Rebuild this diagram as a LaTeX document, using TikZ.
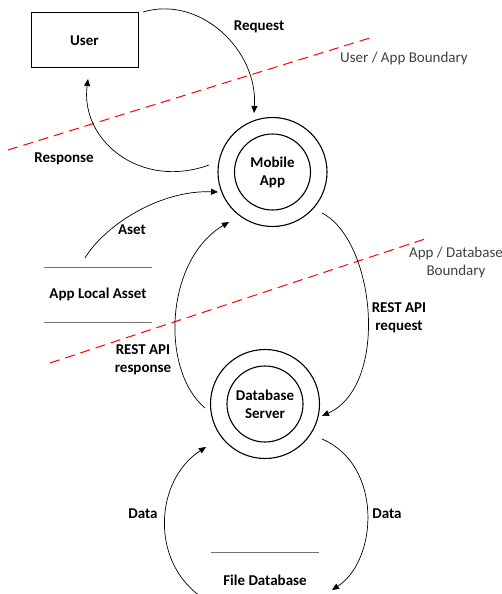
\documentclass[tikz,border=0pt]{standalone}
\usepackage{fontspec}
\setmainfont{Carlito}
\usetikzlibrary{arrows.meta}
\begin{document}
\begin{tikzpicture}[x=1pt,y=-1pt,
  lbl/.style={font=\fontsize{15}{18}\selectfont\bfseries, align=center, inner sep=0pt},
  bnd/.style={font=\fontsize{15}{18}\selectfont, text=black!75, align=center, inner sep=0pt},
  outerc/.style={circle, draw, line width=1.1pt, minimum size=109pt, inner sep=0pt},
  innerc/.style={circle, draw, line width=1.1pt, minimum size=76pt, inner sep=0pt, font=\fontsize{15}{18}\selectfont\bfseries, align=center},
  flow/.style={line width=0.7pt, -{Triangle[length=7pt,width=6pt]}},
  redline/.style={red, line width=1pt, dash pattern=on 10pt off 6pt},
  storeline/.style={black!55, line width=0.6pt}]
\useasboundingbox (0,0) rectangle (502,594);

% entities / processes
\node[draw, line width=1pt, minimum width=107pt, minimum height=55pt, font=\fontsize{15}{18}\selectfont\bfseries] (user) at (84.5,40.5) {User};
\node[outerc] (app) at (272.5,172) {};
\node[innerc] (appin) at (272.5,172) {Mobile\\App};
\node[outerc] (db) at (265,404) {};
\node[innerc] (dbin) at (265,404) {Database\\Server};

% data stores
\node[lbl] (local) at (98,294) {App Local Asset};
\coordinate (la1) at (44,267); \coordinate (la2) at (152,267);
\coordinate (lb1) at (44,322); \coordinate (lb2) at (152,322);
\draw[storeline] (la1) -- (la2);
\draw[storeline] (lb1) -- (lb2);
\node[lbl] (filedb) at (265,580) {File Database};
\coordinate (fa1) at (211,552); \coordinate (fa2) at (319,552);
\draw[storeline] (fa1) -- (fa2);

% boundaries
\coordinate (b1s) at (8,150); \coordinate (b1e) at (373,37);
\draw[redline] (b1s) -- (b1e);
\node[bnd] (b1l) at (404,59) {User / App Boundary};
\coordinate (b2s) at (50,363); \coordinate (b2e) at (425,239);
\draw[redline] (b2s) -- (b2e);
\node[bnd] (b2l) at (456,262) {App / Database\\Boundary};

% flow end points
\coordinate (reqS) at (143,12);   \coordinate (reqE) at (254,113);
\coordinate (resS) at (209,165);  \coordinate (resE) at (88,79);
\coordinate (astS) at (85,258);   \coordinate (astE) at (218,192);
\coordinate (rrqS) at (322,213);  \coordinate (rrqE) at (322,416);
\coordinate (rrsS) at (205,408);  \coordinate (rrsE) at (229,222);
\coordinate (dlS) at (200,596);   \coordinate (dlE) at (206,447);
\coordinate (drS) at (322,439);   \coordinate (drE) at (332,590);

% flows
\draw[flow] (reqS) .. controls (200,-5) and (258,50) .. (reqE);
\draw[flow] (resS) .. controls (140,190) and (80,140) .. (resE);
\draw[flow] (astS) .. controls (105,225) and (160,190) .. (astE);
\draw[flow] (rrqS) .. controls (375,240) and (390,385) .. (rrqE);
\draw[flow] (rrsS) .. controls (160,370) and (165,260) .. (rrsE);
\draw[flow] (dlS) .. controls (150,560) and (155,480) .. (dlE);
\draw[flow] (drS) .. controls (383,465) and (378,560) .. (drE);

% flow labels
\node[lbl] (lreq) at (259,27) {Request};
\node[lbl] (lres) at (64,159) {Response};
\node[lbl] (last) at (132,230) {Aset};
\node[lbl] (lrrq) at (399,318) {REST API\\request};
\node[lbl] (lrrs) at (143,360) {REST API\\response};
\node[lbl] (ldl) at (143,514) {Data};
\node[lbl] (ldr) at (387,514) {Data};
\end{tikzpicture}
\end{document}
